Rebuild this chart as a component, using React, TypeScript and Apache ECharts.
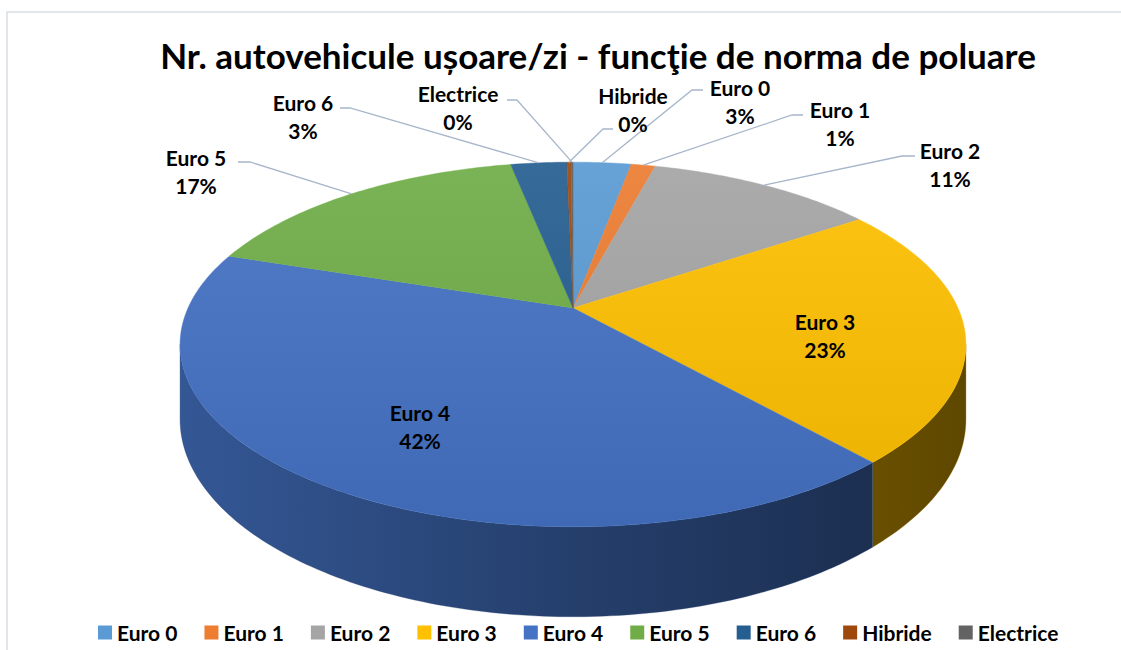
import React, { useEffect, useRef } from "react";
import * as echarts from "echarts";

// ---------- data ----------
const categories = ["Euro 0", "Euro 1", "Euro 2", "Euro 3", "Euro 4", "Euro 5", "Euro 6", "Hibride", "Electrice"];
const shares = [2.9, 1.2, 11.4, 23.0, 41.6, 16.8, 2.8, 0.2, 0.1];
const colors = ["#5B9BD5", "#ED7D31", "#A5A5A5", "#FFC000", "#4472C4", "#70AD47", "#255E91", "#9E480E", "#636363"];
const title = "Nr. autovehicule ușoare/zi - funcţie de norma de poluare";

// ---------- layout (not data) ----------
const FONT = "Lato, 'Open Sans', 'Noto Sans', sans-serif";
const CX = 573, CY = 308, RX = 385, RY = 175, PERSP = 0.2, DEPTH = 72;
const labelLayout: any[] = [
  { x: 740, y: 101, elbow: [692, 90], end: 703 },
  { x: 840, y: 123, elbow: [792, 115], end: 803 },
  { x: 950, y: 164, elbow: [902, 156], end: 915 },
  { x: 825, y: 335 },
  { x: 420, y: 426 },
  { x: 196, y: 171, elbow: [250, 162], end: 238 },
  { x: 303, y: 116, elbow: [350, 108], end: 340 },
  { x: 633, y: 109, elbow: [603, 129], end: 613 },
  { x: 458, y: 107, elbow: [517, 100], end: 507 },
];

function shade(hex: string, t: number) {
  const n = parseInt(hex.slice(1), 16);
  const c = [(n >> 16) & 255, (n >> 8) & 255, n & 255].map((v) =>
    Math.round(t < 0 ? v * (1 + t) : v + (255 - v) * t)
  );
  return `rgb(${c[0]},${c[1]},${c[2]})`;
}

function project(phi: number, drop = 0) {
  const u = Math.sin(phi), v = Math.cos(phi);
  const w = 1 + PERSP * v;
  return [CX + (RX * u) / w, CY - (RY * v) / w + drop / w];
}

function arc(a0: number, a1: number, drop = 0) {
  const pts: number[][] = [];
  const steps = Math.max(2, Math.ceil(((a1 - a0) * 180) / Math.PI));
  for (let k = 0; k <= steps; k++) pts.push(project(a0 + ((a1 - a0) * k) / steps, drop));
  return pts;
}

export default function App() {
  const ref = useRef<HTMLDivElement>(null);
  useEffect(() => {
    const chart = echarts.init(ref.current!, undefined, { renderer: "svg" });
    const total = shares.reduce((a, b) => a + b, 0);
    const cum: number[] = [0];
    shares.forEach((v, i) => cum.push(cum[i] + v));
    const visA = Math.acos(-PERSP); // right silhouette
    const visB = 2 * Math.PI - visA; // left silhouette

    const renderItem = (params: any, api: any) => {
      const i = params.dataIndex;
      const val = api.value(0);
      const a0 = (cum[i] / total) * 2 * Math.PI;
      const a1 = a0 + (val / total) * 2 * Math.PI;
      const c = colors[i];
      const children: any[] = [];
      // top face
      const topPts = [[CX, CY], ...arc(a0, a1)];
      children.push({
        type: "polygon",
        z2: 10,
        shape: { points: topPts },
        style: {
          fill: new echarts.graphic.LinearGradient(0, 150, 0, 530, [
            { offset: 0, color: shade(c, 0.08) },
            { offset: 1, color: shade(c, -0.08) },
          ], true),
          stroke: c,
          lineWidth: 0.4,
        },
      });
      // outer wall (front part only)
      const w0 = Math.max(a0, visA), w1 = Math.min(a1, visB);
      if (w1 > w0) {
        const top = arc(w0, w1);
        const bot = arc(w0, w1, DEPTH).reverse();
        children.push({
          type: "polygon",
          z2: 1,
          shape: { points: [...top, ...bot] },
          style: {
            fill: new echarts.graphic.LinearGradient(180, 0, 965, 0, [
              { offset: 0, color: shade(c, -0.24) },
              { offset: 0.5, color: shade(c, -0.45) },
              { offset: 1, color: shade(c, -0.63) },
            ], true),
            stroke: shade(c, -0.45),
            lineWidth: 0.3,
          },
        });
      }
      // label
      const L = labelLayout[i];
      const pct = Math.round((val / total) * 100) + "%";
      children.push({
        type: "text",
        z2: 30,
        x: L.x,
        y: L.y,
        style: {
          text: categories[i] + "\n" + pct,
          align: "center",
          verticalAlign: "middle",
          fontFamily: FONT,
          fontWeight: "bold",
          fontSize: 21,
          lineHeight: 28,
          fill: "#000",
        },
      });
      if (L.elbow) {
        const mid = project((a0 + a1) / 2);
        children.push({
          type: "polyline",
          z2: 25,
          shape: { points: [mid, L.elbow, [L.end, L.elbow[1]]] },
          style: { stroke: "#A7B6CA", lineWidth: 1.3, fill: "none" },
        });
      }
      return { type: "group", children };
    };

    chart.setOption({
      animation: false,
      color: colors,
      graphic: [
        {
          type: "rect",
          shape: { x: 7, y: 12, width: 1130, height: 660 },
          style: { fill: "none", stroke: "#D9DEE5", lineWidth: 1.5 },
          z: -10,
        },
        {
          type: "text",
          x: 598,
          y: 55,
          style: {
            text: title,
            align: "center",
            verticalAlign: "middle",
            fontFamily: FONT,
            fontWeight: "bold",
            fontSize: 35,
            fill: "#000",
          },
        },
      ],
      legend: {
        data: categories,
        left: 93,
        top: 617,
        icon: "rect",
        itemWidth: 14,
        itemHeight: 14,
        itemGap: 27,
        textStyle: { fontFamily: FONT, fontWeight: "bold", fontSize: 21, color: "#000" },
        selectedMode: false,
      },
      series: [
        {
          type: "pie",
          name: "legend",
          center: [-500, -500],
          radius: 5,
          silent: true,
          label: { show: false },
          labelLine: { show: false },
          data: categories.map((n, i) => ({ name: n, value: shares[i] })),
        },
        {
          type: "custom",
          name: "pie3d",
          coordinateSystem: "none",
          renderItem,
          data: shares.map((v, i) => ({ name: categories[i], value: [v] })),
        },
      ],
    });
    return () => chart.dispose();
  }, []);
  return <div ref={ref} style={{ position: "fixed", left: 0, top: 0, width: 1121, height: 650, background: "#fff" }} />;
}
